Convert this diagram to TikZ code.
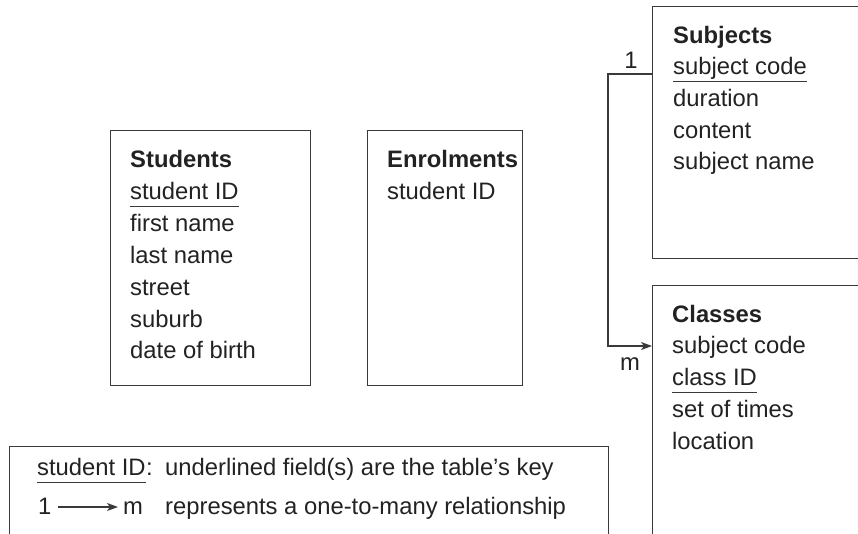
\documentclass[tikz,border=0pt]{standalone}
\usepackage{fontspec}
\setmainfont{Liberation Sans}
\usetikzlibrary{arrows.meta}
\definecolor{linec}{HTML}{3A3A3A}
\definecolor{txtc}{HTML}{222222}
\newcommand{\fs}{\fontsize{23.8}{28}\selectfont}
\tikzset{
  tbl/.style={draw=linec, line width=1.4pt, anchor=north west, inner sep=0pt},
  fld/.style={anchor=base west, inner sep=0pt, font=\fs, text=txtc},
  ttl/.style={fld, font=\fs\bfseries},
  ul/.style={draw=linec, line width=1pt},
  conn/.style={draw=linec, line width=1.3pt},
  tip/.style={-{Stealth[length=11pt,width=8pt,inset=3pt]}},
  lbl/.style={anchor=base, inner sep=0pt, font=\fs, text=txtc}
}
\begin{document}
\begin{tikzpicture}[x=1pt,y=-1pt]
\useasboundingbox (0,0) rectangle (858,533);
\clip (0,0) rectangle (858,533);
% tables
\node[tbl, minimum width=200pt, minimum height=255pt] (students) at (110,130) {};
\node[tbl, minimum width=155pt, minimum height=255pt] (enrol) at (367,130) {};
\node[tbl, minimum width=260pt, minimum height=252pt] (subjects) at (652,6) {};
\node[tbl, minimum width=260pt, minimum height=300pt] (classes) at (652,285) {};
\node[tbl, minimum width=599pt, minimum height=120pt] (legend) at (9,446) {};
% Students
\node[ttl] (st0) at (130,167) {Students};
\node[fld] (st1) at (130,199) {student ID};
\node[fld] (st2) at (130,231) {first name};
\node[fld] (st3) at (130,263) {last name};
\node[fld] (st4) at (130,295) {street};
\node[fld] (st5) at (130,327) {suburb};
\node[fld] (st6) at (130,358) {date of birth};
\draw[ul] ([yshift=-7pt]st1.base west) -- ([yshift=-7pt]st1.base east);
% Enrolments
\node[ttl] (en0) at (387,167) {Enrolments};
\node[fld] (en1) at (387,199) {student ID};
% Subjects
\node[ttl] (su0) at (673,43) {Subjects};
\node[fld] (su1) at (673,74) {subject code};
\node[fld] (su2) at (673,106) {duration};
\node[fld] (su3) at (673,138) {content};
\node[fld] (su4) at (673,169) {subject name};
\draw[ul] ([yshift=-7pt]su1.base west) -- ([yshift=-7pt]su1.base east);
% Classes
\node[ttl] (cl0) at (672,322) {Classes};
\node[fld] (cl1) at (672,353) {subject code};
\node[fld] (cl2) at (672,385) {class ID};
\node[fld] (cl3) at (672,417) {set of times};
\node[fld] (cl4) at (672,449) {location};
\draw[ul] ([yshift=-7pt]cl2.base west) -- ([yshift=-7pt]cl2.base east);
% connector
\coordinate (j1) at (608,74);
\coordinate (j2) at (608,346);
\draw[conn, tip] (j1 -| subjects.west) -- (j1) -- (j2) -- (j2 -| classes.west);
\node[lbl] (one) at (631,68) {1};
\node[lbl] (many) at (630,370) {m};
% legend
\node[fld] (lg1) at (37,475) {student ID};
\node[fld, anchor=base west] (lgc) at (lg1.base east) {:};
\draw[ul] ([yshift=-7pt]lg1.base west) -- ([yshift=-7pt]lg1.base east);
\node[fld] (lgt1) at (165,475) {underlined field(s) are the table’s key};
\node[fld] (lg2) at (38,514) {1};
\node[fld] (lgm) at (123,514) {m};
\draw[conn, tip] ([xshift=6pt,yshift=7pt]lg2.base east) -- ([xshift=-5pt,yshift=7pt]lgm.base west);
\node[fld] (lgt2) at (165,514) {represents a one-to-many relationship};
\end{tikzpicture}
\end{document}
